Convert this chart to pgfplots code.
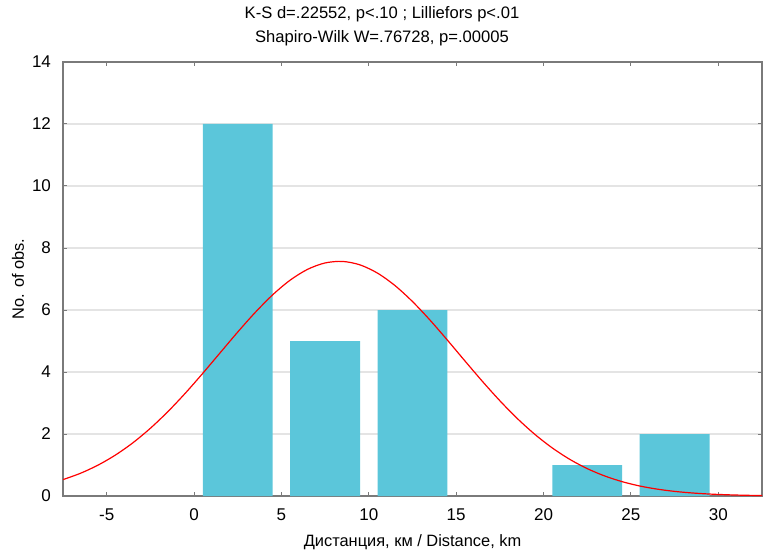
\documentclass[border=0pt]{standalone}
\usepackage{pgfplots}
\pgfplotsset{compat=1.18}
\usepackage{fontspec}
\setmainfont{Liberation Sans}

\definecolor{barc}{HTML}{5BC6DA}
\definecolor{axc}{HTML}{7A7A7A}
\definecolor{gridc}{HTML}{E4E4E4}

\begin{document}
\begin{tikzpicture}[font=\fontsize{8.2}{10}\selectfont]
% 1px = 0.5pt ; picture 763x551 px
\path[use as bounding box] (-31.5pt,-27.5pt) rectangle (350pt,248pt);
\begin{axis}[
    at={(0pt,0pt)}, anchor=south west,
    scale only axis,
    width=349.5pt, height=217pt,
    xmin=-7.5, xmax=32.5,
    ymin=0, ymax=14,
    xtick={-5,0,5,10,15,20,25,30},
    ytick={0,2,4,6,8,10,12,14},
    /pgf/number format/assume math mode=true,
    tick label style={font=\fontsize{8.5}{10}\selectfont},
    axis line style={axc, line width=0.8pt},
    major tick style={axc, line width=0.5pt},
    major tick length=2pt,
    ymajorgrids=true,
    major grid style={gridc, line width=0.6pt},
    xticklabel style={anchor=center, yshift=-9.5pt},
    yticklabel style={anchor=east, xshift=-2.5pt},
    xlabel={Дистанция, км / Distance, km},
    ylabel={No. of obs.},
    xlabel style={at={(axis description cs:0.5,0)}, anchor=center, yshift=-23pt},
    ylabel style={at={(axis description cs:-0.0644,0.5)}, anchor=center},
]
\addplot[ybar, bar width=4, fill=barc, draw=none] coordinates {
    (2.5,12) (7.5,5) (12.5,6) (22.5,1) (27.5,2)};
\addplot[red, line width=0.6pt, smooth, no markers] coordinates {
    (-7.5,0.529) (-6.5,0.733) (-5.5,0.995) (-4.5,1.321) (-3.5,1.717)
    (-2.5,2.185) (-1.5,2.721) (-0.5,3.317) (0.5,3.959) (1.5,4.625)
    (2.5,5.290) (3.5,5.922) (4.5,6.491) (5.5,6.964) (6.5,7.313)
    (7.5,7.518) (8.5,7.567) (9.5,7.455) (10.5,7.189) (11.5,6.787)
    (12.5,6.272) (13.5,5.675) (14.5,5.026) (15.5,4.357) (16.5,3.698)
    (17.5,3.072) (18.5,2.498) (19.5,1.989) (20.5,1.550) (21.5,1.182)
    (22.5,0.883) (23.5,0.646) (24.5,0.462) (25.5,0.323) (26.5,0.222)
    (27.5,0.149) (28.5,0.098) (29.5,0.063) (30.5,0.040) (31.5,0.024)
    (32.5,0.015)};
\end{axis}
\node[anchor=center, font=\fontsize{8.3}{10}\selectfont] at (159.5pt,241pt) {K-S d=.22552, p<.10 ; Lilliefors p<.01};
\node[anchor=center, font=\fontsize{8.3}{10}\selectfont] at (159.5pt,229pt) {Shapiro-Wilk W=.76728, p=.00005};
\end{tikzpicture}
\end{document}
